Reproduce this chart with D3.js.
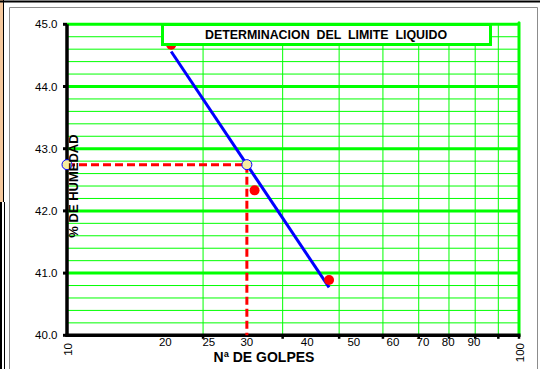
<!DOCTYPE html>
<html>
<head>
<meta charset="utf-8">
<script src="https://cdn.jsdelivr.net/npm/d3@7"></script>
<style>
  html, body { margin: 0; padding: 0; background: #fff; }
  svg { display: block; }
  text { font-family: "Liberation Sans", Arial, sans-serif; }
</style>
</head>
<body>
<svg id="chart" width="540" height="369"></svg>
<script>
// Blow counts and moisture content of the three Casagrande trials
const blows = [17, 26, 38];
const moisture = [44.67, 42.33, 40.89];

// Reference blow count for the liquid limit
const targetBlows = 25;

// Axis ticks and labels
const yTicks = [40, 41, 42, 43, 44, 45];
const xGrid = [20, 30, 40, 50, 60, 70, 80, 90, 100];
const xTickLabels = ["20", "25", "30", "40", "50", "60", "70", "80", "90"];
const xTickLabelAt = [16.5, 20.6, 25, 34, 43.1, 52.6, 61.3, 69.7, 79.5];
const xEndLabels = ["10", "100"];

const chartTitle = "DETERMINACION  DEL  LIMITE  LIQUIDO";
const xTitle = "Nª DE GOLPES";
const yTitle = "% DE HUMEDAD";

const svg = d3.select("#chart");
const green = "#00ff00";

const x = d3.scaleLog().domain([10, 100]).range([67, 519]);
const y = d3.scaleLinear().domain([40, 45]).range([335.3, 24.3]);

// Sheet borders around the chart
svg.append("rect").attr("x", 0).attr("y", 0).attr("width", 3).attr("height", 202).attr("fill", "#f6c89c");
svg.append("line").attr("x1", 3.5).attr("x2", 3.5).attr("y1", 0).attr("y2", 202).attr("stroke", "#000").attr("stroke-width", 1);
svg.append("line").attr("x1", 1).attr("x2", 1).attr("y1", 202).attr("y2", 369).attr("stroke", "#000").attr("stroke-width", 2);
svg.append("line").attr("x1", 4.5).attr("x2", 4.5).attr("y1", 202).attr("y2", 369).attr("stroke", "#000").attr("stroke-width", 1);
svg.append("line").attr("x1", 0).attr("x2", 540).attr("y1", 1.5).attr("y2", 1.5).attr("stroke", "#000").attr("stroke-width", 2);
svg.append("path").attr("d", "M9.5,369V7.5H537.5V369").attr("fill", "none").attr("stroke", "#8c8c8c").attr("stroke-width", 1);

const plot = svg.append("g");

// Minor horizontal grid every 0.2
const minorY = d3.range(40.2, 45, 0.2).filter(v => Math.abs(v - Math.round(v)) > 1e-6);
plot.selectAll(".minor-y").data(minorY).join("line")
  .attr("x1", x(10)).attr("x2", x(100))
  .attr("y1", d => y(d)).attr("y2", d => y(d))
  .attr("stroke", green).attr("stroke-width", 1);

// Vertical grid
plot.selectAll(".grid-x").data(xGrid.slice(0, -1)).join("line")
  .attr("x1", d => x(d)).attr("x2", d => x(d))
  .attr("y1", y(45)).attr("y2", y(40))
  .attr("stroke", green).attr("stroke-width", 1);

// Major horizontal grid
plot.selectAll(".major-y").data(yTicks.slice(1)).join("line")
  .attr("x1", x(10)).attr("x2", x(100))
  .attr("y1", d => y(d)).attr("y2", d => y(d))
  .attr("stroke", green).attr("stroke-width", 3);

// Right border of plot area
plot.append("line")
  .attr("x1", x(100)).attr("x2", x(100)).attr("y1", y(45) - 1.5).attr("y2", y(40))
  .attr("stroke", green).attr("stroke-width", 3).attr("stroke-linecap", "round");

// Axes
plot.append("line").attr("x1", x(10)).attr("x2", x(10)).attr("y1", y(45)).attr("y2", y(40) + 1.5)
  .attr("stroke", "#000").attr("stroke-width", 3.5);
plot.append("line").attr("x1", x(10) - 1.5).attr("x2", x(100) + 1.5).attr("y1", y(40)).attr("y2", y(40))
  .attr("stroke", "#000").attr("stroke-width", 3.5);

// Y ticks and labels
plot.selectAll(".ytick").data(yTicks).join("line")
  .attr("x1", x(10) - 4).attr("x2", x(10)).attr("y1", d => y(d)).attr("y2", d => y(d))
  .attr("stroke", "#000").attr("stroke-width", 3);
plot.selectAll(".ylab").data(yTicks).join("text")
  .attr("x", 57.5).attr("y", d => y(d)).attr("dy", "0.36em")
  .attr("text-anchor", "end").attr("font-size", 11.5).attr("fill", "#000")
  .text(d => d.toFixed(1));

// X ticks
plot.selectAll(".xtick").data(xGrid).join("line")
  .attr("x1", d => x(d)).attr("x2", d => x(d)).attr("y1", y(40)).attr("y2", y(40) + 3.5)
  .attr("stroke", "#000").attr("stroke-width", 2.5);

// X labels
plot.selectAll(".xlab").data(xTickLabels).join("text")
  .attr("x", (d, i) => x(xTickLabelAt[i])).attr("y", 345.5)
  .attr("text-anchor", "middle").attr("font-size", 11.5).attr("fill", "#000")
  .text(d => d);
plot.selectAll(".xend").data(xEndLabels).join("text")
  .attr("transform", d => `translate(${x(+d) + 0.5},343) rotate(-90)`)
  .attr("text-anchor", "end").attr("dy", "0.36em")
  .attr("font-size", 11.5).attr("fill", "#000")
  .text(d => d);

// Least-squares fit of moisture vs log10(blows)
const lx = blows.map(b => Math.log10(b));
const mx = d3.mean(lx), my = d3.mean(moisture);
const slope = d3.sum(lx, (v, i) => (v - mx) * (moisture[i] - my)) / d3.sum(lx, v => (v - mx) ** 2);
const fit = b => my + slope * (Math.log10(b) - mx);
const liquidLimit = fit(targetBlows);

// Dashed guide lines to the liquid limit
plot.append("path")
  .attr("d", `M${x(10)},${y(liquidLimit)}H${x(targetBlows)}V${y(40)}`)
  .attr("fill", "none").attr("stroke", "#ff0000").attr("stroke-width", 3)
  .attr("stroke-dasharray", "8,4");

// Fitted flow line
const extent = d3.extent(blows);
plot.append("line")
  .attr("x1", x(extent[0])).attr("y1", y(fit(extent[0])))
  .attr("x2", x(extent[1])).attr("y2", y(fit(extent[1])))
  .attr("stroke", "#0000ff").attr("stroke-width", 3);

// Trial points
plot.selectAll(".pt").data(blows).join("circle")
  .attr("cx", d => x(d)).attr("cy", (d, i) => y(moisture[i])).attr("r", 5)
  .attr("fill", "#ff0000");

// Liquid limit markers
plot.selectAll(".ll").data([10, targetBlows]).join("circle")
  .attr("cx", d => x(d)).attr("cy", y(liquidLimit)).attr("r", 5)
  .attr("fill", "#f5eca0").attr("stroke", "#0000ff").attr("stroke-width", 1);

// Title box
plot.append("rect")
  .attr("x", 162.5).attr("y", 24.5).attr("width", 328).attr("height", 20)
  .attr("fill", "#fff").attr("stroke", green).attr("stroke-width", 3);
plot.append("text")
  .attr("x", 326).attr("y", 34.5).attr("dy", "0.36em")
  .attr("text-anchor", "middle").attr("font-size", 12.4).attr("font-weight", "bold")
  .style("white-space", "pre").attr("fill", "#000")
  .text(chartTitle);

// Axis titles
svg.append("text")
  .attr("x", 264).attr("y", 361.5)
  .attr("text-anchor", "middle").attr("font-size", 14).attr("font-weight", "bold").attr("fill", "#000")
  .text(xTitle);
svg.append("text")
  .attr("transform", "translate(77.5,186) rotate(-90)")
  .attr("text-anchor", "middle").attr("font-size", 13).attr("font-weight", "bold").attr("fill", "#000")
  .text(yTitle);
</script>
</body>
</html>
